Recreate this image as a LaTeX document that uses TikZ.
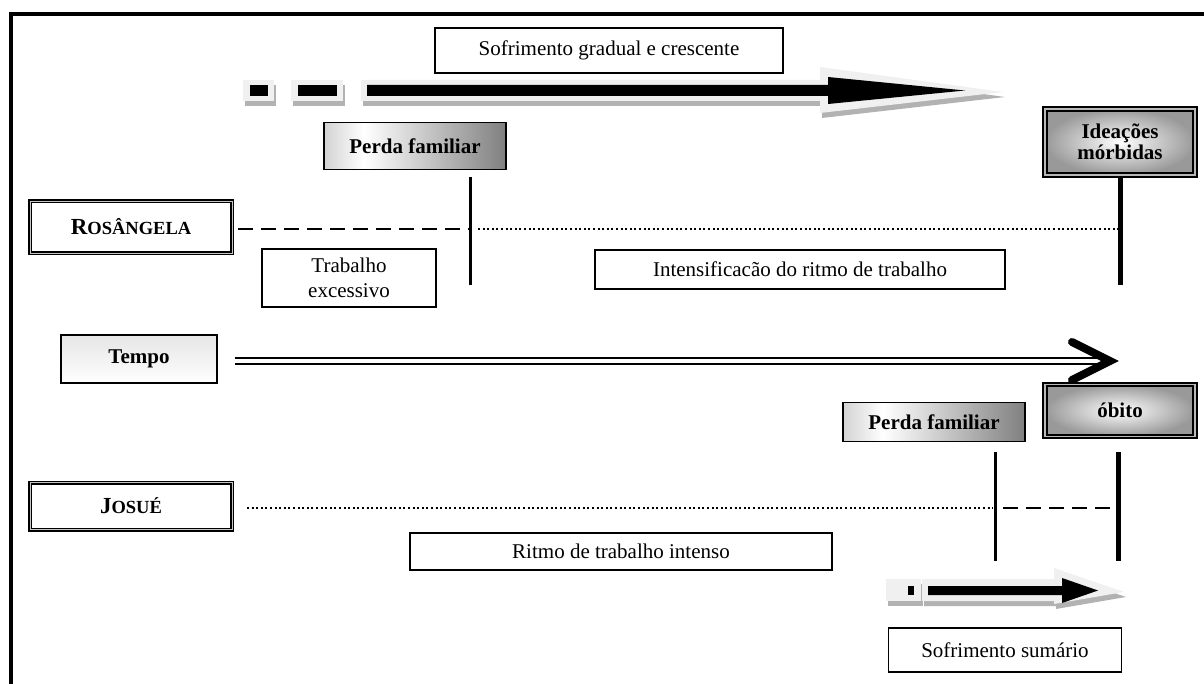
\documentclass[tikz,border=0pt]{standalone}
\usepackage{fontspec}
\setmainfont{Liberation Serif}
\pgfdeclarehorizontalshading{pfshade}{100bp}{color(0bp)=(gray!35); color(25bp)=(gray!35); color(36bp)=(white); color(75bp)=(gray); color(100bp)=(gray)}
\newcommand\nfont{\fontsize{21}{25}\selectfont}
\newcommand\bfont{\bfseries\fontsize{21}{24}\selectfont}
\newcommand\scname[2]{{\fontsize{23}{26}\selectfont #1}{\fontsize{18.5}{22}\selectfont #2}}
\begin{document}
\begin{tikzpicture}[x=1pt,y=-1pt,
  lbl/.style={draw, line width=1.3pt, fill=white, inner sep=0pt, align=center, font=\nfont},
  gbox/.style={draw, line width=1.4pt, inner sep=0pt, align=center, font=\bfont},
  dbox/.style={draw, line width=1.7pt, double=gray!55, double distance=1.8pt, inner sep=0pt, align=center, font=\bfont, inner color=white, outer color=gray!80},
  namebox/.style={draw, line width=1.6pt, double=gray!45, double distance=0.8pt, fill=white, inner sep=0pt, align=center, font=\bfseries},
  tick/.style={line width=3pt},
  thicktick/.style={line width=5pt},
  dashline/.style={line width=2.4pt, dash pattern=on 15pt off 8pt},
  dotline/.style={line width=2pt, dash pattern=on 2pt off 2.6pt},
  glow/.style={fill=gray!12},
  shadow/.style={fill=gray!60},
  blackarrow/.style={fill=black}]
\useasboundingbox (0,0) rectangle (1204,684);
% frame
\draw[line width=4pt] (10.5,684) -- (10.5,13.7) -- (1204,13.7);

% --- big arrow: Sofrimento gradual e crescente
\begin{scope}[shift={(2,5)}]
  \fill[shadow] (243,80) rectangle (274,101);
  \fill[shadow] (291,80) rectangle (343,101);
  \fill[shadow] (361,80) -- (820,80) -- (820,67) -- (1003,92) -- (820,113) -- (820,101) -- (361,101) -- cycle;
\end{scope}
\fill[glow] (243,80) rectangle (274,101);
\fill[glow] (291,80) rectangle (343,101);
\fill[glow] (361,80) -- (820,80) -- (820,67) -- (1003,92) -- (820,113) -- (820,101) -- (361,101) -- cycle;
\fill[blackarrow] (250,85) rectangle (268,96);
\fill[blackarrow] (298,85) rectangle (337,96);
\fill[blackarrow] (367,85) -- (828,85) -- (828,77) -- (965,90.5) -- (828,104) -- (828,96) -- (367,96) -- cycle;

% --- small arrow: Sofrimento sumario
\begin{scope}[shift={(2,5)}]
  \fill[shadow] (886,579) rectangle (921,601);
  \fill[shadow] (922,579) -- (1054,579) -- (1054,568) -- (1124,592) -- (1054,604) -- (1054,601) -- (922,601) -- cycle;
\end{scope}
\fill[glow] (886,579) rectangle (921,601);
\fill[glow] (922,579) -- (1054,579) -- (1054,568) -- (1124,592) -- (1054,604) -- (1054,601) -- (922,601) -- cycle;
\fill[blackarrow] (908,586) rectangle (914,595);
\fill[blackarrow] (928,586) -- (1062,586) -- (1062,578) -- (1098,590.5) -- (1062,603) -- (1062,595) -- (928,595) -- cycle;

% --- nodes
\node[lbl, minimum width=348pt, minimum height=45pt] (sofgrad) at (609,50.5) {Sofrimento gradual e crescente};
\node[gbox, minimum width=182pt, minimum height=47pt, shading=pfshade] (perda1) at (415,146) {Perda familiar};
\node[dbox, minimum width=150pt, minimum height=66pt] (ideacoes) at (1120,142) {Ideações\\[-3pt]mórbidas};
\node[namebox, minimum width=202pt, minimum height=52pt] (rosangela) at (131,227) {\scname{R}{OSÂNGELA}};
\node[lbl, minimum width=174pt, minimum height=58pt] (trabexc) at (349,278) {Trabalho\\excessivo};
\node[lbl, minimum width=410pt, minimum height=39pt] (intens) at (800,269.5) {Intensificacão do ritmo de trabalho};
\node[gbox, minimum width=156pt, minimum height=48pt, top color=gray!20, middle color=gray!70, bottom color=white] (tempo) at (139,359) {Tempo};
\node[dbox, minimum width=150pt, minimum height=52pt] (obito) at (1120,410.5) {óbito};
\node[gbox, minimum width=182pt, minimum height=39pt, shading=pfshade] (perda2) at (934,422) {Perda familiar};
\node[namebox, minimum width=202pt, minimum height=47pt] (josue) at (131,506) {\scname{J}{OSUÉ}};
\node[lbl, minimum width=422pt, minimum height=37pt] (ritmo) at (621,551.5) {Ritmo de trabalho intenso};
\node[lbl, minimum width=233pt, minimum height=44pt] (sofsum) at (1005,650) {Sofrimento sumário};

% --- connectors (free ends as named coordinates)
\coordinate (r1a) at (470,177);
\coordinate (r1b) at (470,285);
\coordinate (r2b) at (1120,285);
\coordinate (rdash0) at (238,229);
\coordinate (rdash1) at (470,229);
\coordinate (rdot0) at (478,229);
\coordinate (rdot1) at (1118,229);
\coordinate (t0) at (235,361);
\coordinate (t1) at (1108,361);
\coordinate (th1) at (1072,342);
\coordinate (th2) at (1110,361);
\coordinate (th3) at (1072,380);
\coordinate (j1a) at (995,452);
\coordinate (j1b) at (995,561);
\coordinate (j2a) at (1118,452);
\coordinate (j2b) at (1118,561);
\coordinate (jdot0) at (247,508);
\coordinate (jdot1) at (993,508);
\coordinate (jdash0) at (1003,508);
\coordinate (jdash1) at (1116,508);

\draw[tick] (r1a) -- (r1b);
\draw[thicktick] (ideacoes.south) -- (r2b);
\draw[dashline] (rdash0) -- (rdash1);
\draw[dotline] (rdot0) -- (rdot1);
\draw[line width=2.5pt, double=white, double distance=3.5pt] (t0) -- (t1);
\draw[line width=8pt, line cap=round, line join=miter] (th1) -- (th2) -- (th3);
\draw[tick] (j1a) -- (j1b);
\draw[thicktick] (j2a) -- (j2b);
\draw[dotline] (jdot0) -- (jdot1);
\draw[dashline] (jdash0) -- (jdash1);
\end{tikzpicture}
\end{document}
